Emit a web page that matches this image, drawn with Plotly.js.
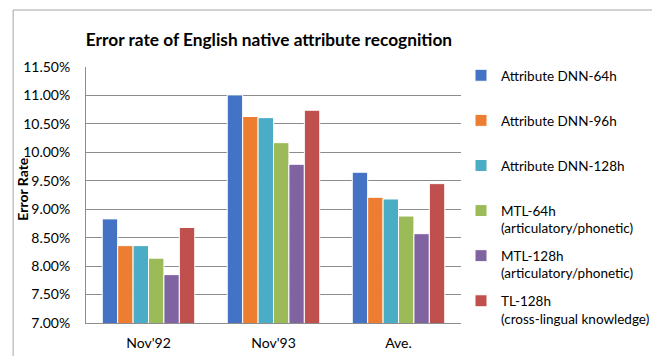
<!DOCTYPE html>
<html>
<head>
<meta charset="utf-8">
<script src="https://cdn.plot.ly/plotly-3.0.1.min.js"></script>
<style>html,body{margin:0;padding:0;background:#fff;}#chart{width:652px;height:356px;}</style>
</head>
<body>
<div id="chart"></div>
<script>
const categories = ["Nov'92", "Nov'93", "Ave."];
const seriesNames = [
  "Attribute DNN-64h<br> ",
  "Attribute DNN-96h<br> ",
  "Attribute DNN-128h<br> ",
  "MTL-64h<br>(articulatory/phonetic)",
  "MTL-128h<br>(articulatory/phonetic)",
  "TL-128h<br>(cross-lingual knowledge)"
];
const dnn64  = [8.83, 11.01, 9.65];
const dnn96  = [8.36, 10.63, 9.21];
const dnn128 = [8.36, 10.61, 9.18];
const mtl64  = [8.14, 10.17, 8.88];
const mtl128 = [7.85, 9.79, 8.57];
const tl128  = [8.68, 10.74, 9.45];
const yTicks = [7.0, 7.5, 8.0, 8.5, 9.0, 9.5, 10.0, 10.5, 11.0, 11.5];
const yTickText = yTicks.map(v => v.toFixed(2) + "%");
const colors = ["#4472C4", "#ED7D31", "#4BACC6", "#9BBB59", "#8064A2", "#C0504D"];

const series = [dnn64, dnn96, dnn128, mtl64, mtl128, tl128];
const font = "Lato, 'Open Sans', sans-serif";
const traces = series.map((vals, i) => ({
  type: "bar",
  name: seriesNames[i],
  x: categories,
  y: vals,
  legendgroup: "g" + i,
  marker: {color: colors[i], line: {color: "#ffffff", width: 1}},
  hoverinfo: "x+y"
}));

const L = 86, T = 67, R = 477, B = 323, W = 652, H = 356;
const layout = {
  width: W, height: H,
  margin: {l: L, r: W - R, t: T, b: H - B, pad: 0},
  paper_bgcolor: "#ffffff",
  plot_bgcolor: "#ffffff",
  barmode: "group",
  bargap: 0.26,
  bargroupgap: 0,
  font: {family: font, color: "#000000"},
  title: {
    text: "<b>Error rate of English native attribute recognition</b>",
    font: {family: font, size: 17.3, color: "#000000"},
    xref: "container", x: 269 / W, xanchor: "center",
    yref: "container", y: 1 - 40 / H, yanchor: "middle"
  },
  xaxis: {
    type: "category",
    showline: true, linecolor: "#8c8c8c", linewidth: 1,
    showgrid: false, ticks: "", ticklabelstandoff: 7,
    tickfont: {family: font, size: 14, color: "#000000"},
    zeroline: false, fixedrange: true
  },
  yaxis: {
    range: [7.0, 11.5],
    tickvals: yTicks, ticktext: yTickText,
    showline: true, linecolor: "#8c8c8c", linewidth: 1,
    showgrid: true, gridcolor: "#8c8c8c", gridwidth: 1,
    ticks: "", ticklabelstandoff: 12,
    tickfont: {family: font, size: 14, color: "#000000"},
    zeroline: false, fixedrange: true
  },
  annotations: [{
    text: "<b>Error Rate</b>",
    xref: "paper", yref: "paper",
    x: (19 - L) / (R - L), y: (B - 189) / (B - T),
    xanchor: "center", yanchor: "middle",
    textangle: -90, showarrow: false,
    font: {family: font, size: 14, color: "#000000"}
  }],
  legend: {
    x: 461 / W, xref: "container", xanchor: "left",
    y: 1 - 60 / H, yref: "container", yanchor: "top",
    valign: "top",
    tracegroupgap: 7,
    itemwidth: 30,
    maxheight: 1,
    traceorder: "grouped",
    font: {family: font, size: 13.5, color: "#000000"},
    bgcolor: "rgba(0,0,0,0)"
  },
  shapes: [{
    type: "rect", xref: "paper", yref: "paper",
    x0: (10 - L) / (R - L), x1: 1.6,
    y0: -0.5, y1: (B - 10) / (B - T),
    line: {color: "#a6a6a6", width: 1}, fillcolor: "rgba(0,0,0,0)", layer: "below"
  }],
  showlegend: true
};

Plotly.newPlot("chart", traces, layout, {displayModeBar: false, staticPlot: true});
</script>
</body>
</html>
